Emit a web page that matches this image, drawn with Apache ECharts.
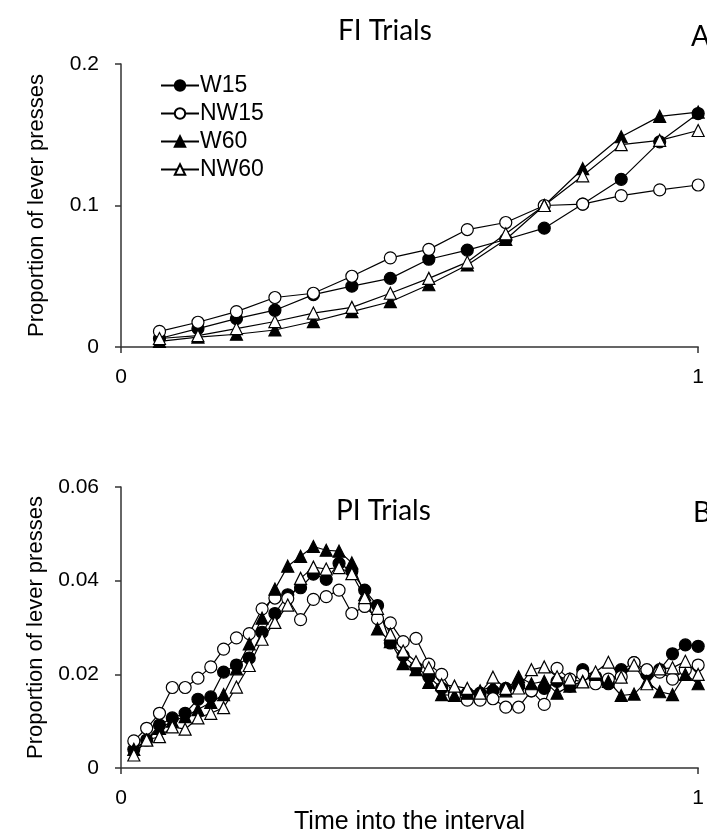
<!DOCTYPE html>
<html>
<head>
<meta charset="utf-8">
<title>FI / PI Trials</title>
<script src="https://cdn.jsdelivr.net/npm/echarts@6/dist/echarts.min.js"></script>
<style>
  html, body { margin: 0; padding: 0; background: #fff; }
  #main { width: 707px; height: 836px; }
</style>
</head>
<body>
<div id="main"></div>
<script>
// series names
var groups = ['W15', 'NW15', 'W60', 'NW60'];

// FI trials: 15 bins
var fiW15  = [0.006, 0.013, 0.020, 0.026, 0.037, 0.043, 0.0485, 0.062, 0.0685, 0.076, 0.084, 0.101, 0.1185, 0.145, 0.165];
var fiNW15 = [0.011, 0.0175, 0.025, 0.035, 0.038, 0.050, 0.063, 0.069, 0.083, 0.088, 0.100, 0.101, 0.107, 0.111, 0.1145];
var fiW60  = [0.004, 0.007, 0.009, 0.012, 0.018, 0.025, 0.032, 0.044, 0.058, 0.076, 0.100, 0.126, 0.1486, 0.163, 0.166];
var fiNW60 = [0.006, 0.008, 0.013, 0.018, 0.024, 0.028, 0.038, 0.0485, 0.060, 0.080, 0.100, 0.121, 0.143, 0.146, 0.153];

// PI trials: 45 bins
var piW15  = [0.004, 0.006, 0.0092, 0.0107, 0.0117, 0.0147, 0.0152, 0.0205, 0.022, 0.0235,
              0.029, 0.033, 0.037, 0.0385, 0.0414, 0.0403, 0.0437, 0.042, 0.038, 0.0347,
              0.0267, 0.024, 0.0215, 0.0195, 0.017, 0.016, 0.016, 0.016, 0.0165, 0.017,
              0.0175, 0.0165, 0.017, 0.0185, 0.0175, 0.021, 0.0195, 0.018, 0.021, 0.0225,
              0.020, 0.021, 0.0244, 0.0263, 0.026];
var piNW15 = [0.0058, 0.0085, 0.0117, 0.0172, 0.0172, 0.0192, 0.0216, 0.0254, 0.0278, 0.0287,
              0.034, 0.0363, 0.0362, 0.0317, 0.036, 0.0366, 0.038, 0.033, 0.0345, 0.0319,
              0.031, 0.027, 0.0277, 0.0222, 0.020, 0.0155, 0.0145, 0.0145, 0.0148, 0.013,
              0.013, 0.0165, 0.0136, 0.0213, 0.019, 0.020, 0.018, 0.019, 0.0195, 0.0225,
              0.021, 0.0205, 0.019, 0.021, 0.022];
var piW60  = [0.004, 0.006, 0.0085, 0.010, 0.011, 0.0125, 0.014, 0.0157, 0.0212, 0.0265,
              0.032, 0.0382, 0.0431, 0.0452, 0.0473, 0.0465, 0.0463, 0.0438, 0.037, 0.0297,
              0.027, 0.0223, 0.021, 0.0183, 0.0157, 0.0155, 0.016, 0.0165, 0.0175, 0.0165,
              0.0195, 0.018, 0.0185, 0.016, 0.0175, 0.0185, 0.020, 0.0185, 0.0155, 0.0158,
              0.0185, 0.0163, 0.0157, 0.020, 0.018];
var piNW60 = [0.0028, 0.006, 0.0067, 0.0088, 0.0083, 0.0107, 0.0117, 0.0129, 0.0173, 0.0219,
              0.0275, 0.0311, 0.0348, 0.0405, 0.0429, 0.0425, 0.0428, 0.0415, 0.0364, 0.0341,
              0.0286, 0.025, 0.0227, 0.0214, 0.0178, 0.0175, 0.017, 0.016, 0.0194, 0.017,
              0.0171, 0.021, 0.0216, 0.0195, 0.019, 0.0184, 0.0205, 0.0226, 0.0194, 0.022,
              0.018, 0.0212, 0.0214, 0.0228, 0.020];

// pair each value with its bin position on the 0..1 interval
function pairs(vals) {
    var n = vals.length;
    return vals.map(function (v, i) { return [(i + 1) / n, v]; });
}

var sym = {
    W15:  { symbol: 'circle',   fill: '#000' },
    NW15: { symbol: 'circle',   fill: '#fff' },
    W60:  { symbol: 'triangle', fill: '#000' },
    NW60: { symbol: 'triangle', fill: '#fff' }
};

function makeSeries(name, vals, idx) {
    return {
        name: name,
        type: 'line',
        xAxisIndex: idx,
        yAxisIndex: idx,
        data: pairs(vals),
        symbol: sym[name].symbol,
        symbolSize: 12,
        showAllSymbol: true,
        animation: false,
        lineStyle: { color: '#000', width: 1.2 },
        itemStyle: { color: sym[name].fill, borderColor: '#000', borderWidth: 1.2 }
    };
}

var sans = "'Liberation Sans', Arial, sans-serif";
var axisFont = { fontFamily: sans, fontSize: 21, color: '#000' };
var titleFont = { fontFamily: 'Lato, sans-serif', fontSize: 28, fontWeight: 'normal', color: '#000' };

function xAx(idx, showName) {
    return {
        type: 'value', gridIndex: idx, min: 0, max: 1, interval: 1,
        axisLine: { lineStyle: { color: '#333', width: 1.5 } },
        axisTick: { show: true, length: 6, lineStyle: { color: '#333', width: 1.5 } },
        axisLabel: Object.assign({ margin: 20 }, axisFont),
        splitLine: { show: false },
        name: showName ? 'Time into the interval' : '',
        nameLocation: 'middle', nameGap: 38,
        nameTextStyle: { fontFamily: sans, fontSize: 25, color: '#000' }
    };
}

function yAx(idx, max, interval) {
    return {
        type: 'value', gridIndex: idx, min: 0, max: max, interval: interval,
        axisLine: { show: true, lineStyle: { color: '#333', width: 1.5 } },
        axisTick: { show: true, length: 6, lineStyle: { color: '#333', width: 1.5 } },
        axisLabel: Object.assign({ margin: 22 }, axisFont),
        splitLine: { show: false },
        name: 'Proportion of lever presses',
        nameLocation: 'middle', nameGap: 73,
        nameTextStyle: { fontFamily: sans, fontSize: 22, color: '#000' }
    };
}

var chart = echarts.init(document.getElementById('main'), null, { renderer: 'canvas' });

var option = {
    backgroundColor: '#fff',
    animation: false,
    title: [
        { text: 'FI Trials', left: 333, top: 12, textStyle: titleFont },
        { text: 'A', left: 686, top: 18, textStyle: titleFont },
        { text: 'PI Trials', left: 331, top: 492, textStyle: titleFont },
        { text: 'B', left: 688, top: 494, textStyle: titleFont }
    ],
    legend: {
        data: groups,
        orient: 'vertical',
        left: 155, top: 69,
        itemWidth: 38, itemHeight: 13, itemGap: 5,
        textStyle: { fontFamily: sans, fontSize: 23, color: '#000', padding: [0, 0, 0, -4] },
        selectedMode: false
    },
    grid: [
        { left: 121, top: 64, width: 581, height: 283 },
        { left: 121, top: 487, width: 581, height: 283 }
    ],
    xAxis: [xAx(0, false), xAx(1, true)],
    yAxis: [yAx(0, 0.2, 0.1), yAx(1, 0.06, 0.02)],
    series: [
        makeSeries('W15', fiW15, 0),
        makeSeries('NW15', fiNW15, 0),
        makeSeries('W60', fiW60, 0),
        makeSeries('NW60', fiNW60, 0),
        makeSeries('W15', piW15, 1),
        makeSeries('NW15', piNW15, 1),
        makeSeries('W60', piW60, 1),
        makeSeries('NW60', piNW60, 1)
    ]
};

chart.setOption(option);
</script>
</body>
</html>
